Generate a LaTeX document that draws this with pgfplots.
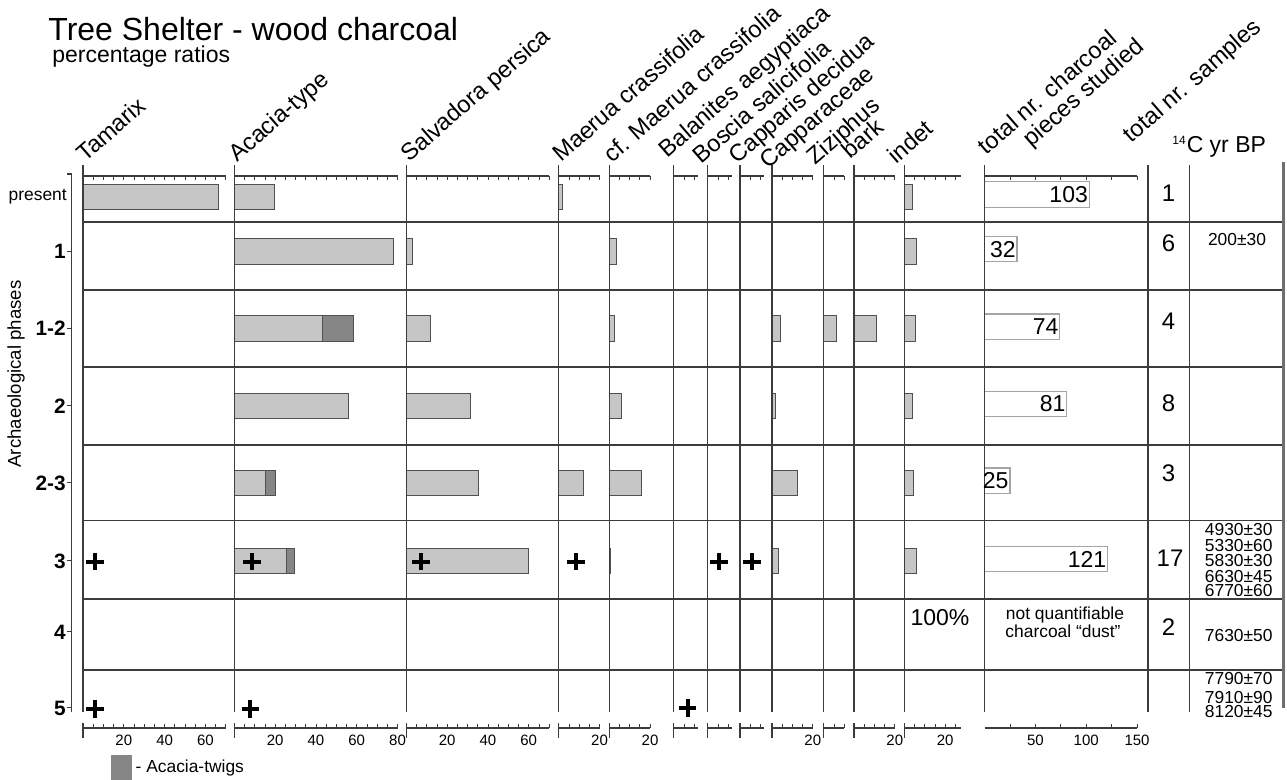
\documentclass[border=0pt]{standalone}
\usepackage{fontspec}
\setmainfont{Liberation Sans}
\usepackage{pgfplots}
\pgfplotsset{compat=1.18}

\definecolor{barfill}{RGB}{198,198,198}
\definecolor{baredge}{RGB}{80,80,80}
\definecolor{twig}{RGB}{134,134,134}
\definecolor{rule}{RGB}{60,60,60}
\definecolor{totedge}{RGB}{165,165,165}
\definecolor{thickgray}{RGB}{110,110,110}

\newcommand{\fs}[1]{\fontsize{#1}{#1}\selectfont}
% vertical divider of a panel + small origin bar on the bottom scale
\newcommand{\colline}{%
  \draw[rule, line width=0.65pt] (axis cs:0,68) -- (axis cs:0,615);
  \draw[rule, line width=0.65pt] (axis cs:0,42) -- (axis cs:0,57);}

\pgfplotsset{
  /pgf/number format/assume math mode=true,
  panel/.style={
    anchor=south west, x=1.02pt, y=0.5pt,
    xmin=0, ymin=52, ymax=604,
    axis x line=box, axis y line=none,
    xtick={20,40,60,80}, minor xtick={5,10,...,80},
    ytick=\empty,
    tick align=inside,
    major tick length=2pt, minor tick length=2pt,
    tick style={rule, line width=0.4pt},
    axis line style={rule, line width=0.6pt},
    ticklabel style={font=\fs{7.5}, text=black},
    clip=false,
  },
  bars/.style={xbar, bar width=25.5, bar shift=0pt, fill=barfill, draw=baredge, line width=0.5pt},
  plus/.style={only marks, mark=+, mark size=4.3pt, mark options={line width=2pt, draw=black}},
}

\begin{document}
\begin{tikzpicture}
\path[use as bounding box] (0pt,0pt) rectangle (643.5pt,390pt);

\begin{scope}[x=0.5pt, y=0.5pt]
  % anchor points of the panels (pixel grid, origin bottom left)
  \coordinate (cRow) at (71.7,68);
  \coordinate (cTam) at (83,52);
  \coordinate (cAca) at (234.3,52);
  \coordinate (cSal) at (406.3,52);
  \coordinate (cMae) at (558.7,52);
  \coordinate (cCfm) at (609.2,52);
  \coordinate (cBal) at (673.7,52);
  \coordinate (cBos) at (707.7,52);
  \coordinate (cCde) at (740,52);
  \coordinate (cCap) at (772,52);
  \coordinate (cZiz) at (823.7,52);
  \coordinate (cBar) at (854,52);
  \coordinate (cInd) at (904.3,52);
  \coordinate (cTot) at (984.5,52);

  % row separators
  \foreach \yy in {558,490,413,335,259.5,181,110}
    \draw[rule, line width=0.6pt] (82,\yy) -- (1283,\yy);
  \draw[rule, line width=0.65pt] (1148,68) -- (1148,615);
  \draw[rule, line width=0.65pt] (1189.3,68) -- (1189.3,615);
  \draw[thickgray, line width=1.8pt] (1283.5,72) -- (1283.5,618);
  \draw[rule, line width=0.6pt] (67,606) -- (71.7,606);

  % titles
  \node[anchor=base west, inner sep=0pt, font=\fs{16}] at (48,739) {Tree Shelter - wood charcoal};
  \node[anchor=base west, inner sep=0pt, font=\fs{11.5}] at (52,717) {percentage ratios};
  \node[rotate=90, font=\fs{9.3}] at (16,406) {Archaeological phases};

  % column headers
  \begin{scope}[every node/.style={rotate=41, anchor=base west, inner sep=0pt, font=\fs{11.8}}]
    \node at (85,617) {Tamarix};
    \node at (237,617) {Acacia-type};
    \node at (409,617) {Salvadora persica};
    \node at (561,617) {Maerua crassifolia};
    \node at (612,616) {cf. Maerua crassifolia};
    \node at (667,621) {Balanites aegyptiaca};
    \node at (701,615) {Boscia salicifolia};
    \node at (737,615) {Capparis decidua};
    \node at (768,610) {Capparaceae};
    \node at (815,614) {Ziziphus};
    \node at (850,620) {bark};
    \node at (896,615) {indet};
    \node at (986,624) {total nr. charcoal};
    \node at (1031,632) {pieces studied};
    \node at (1131,636) {total nr. samples};
  \end{scope}
  \node[anchor=base west, inner sep=0pt, font=\fs{11.5}] at (1172,627) {\textsuperscript{\fs{6}14}C yr BP};

  % samples per phase
  \begin{scope}[every node/.style={font=\fs{12}}]
    \node at (1168.5,587) {1};
    \node at (1168.5,536.7) {6};
    \node at (1168.5,458.3) {4};
    \node at (1168.5,376.7) {8};
    \node at (1168.5,306.7) {3};
    \node at (1170,221.7) {17};
    \node at (1168.5,152.7) {2};
  \end{scope}

  % radiocarbon dates
  \begin{scope}[every node/.style={font=\fs{8.7}, inner sep=0pt}]
    \node at (1237,540) {200±30};
    \node at (1238.7,250) {4930±30};
    \node at (1238.7,234.7) {5330±60};
    \node at (1238.7,219) {5830±30};
    \node at (1238.7,203.3) {6630±45};
    \node at (1238.7,189) {6770±60};
    \node at (1238.7,144) {7630±50};
    \node at (1238.7,101) {7790±70};
    \node at (1238.7,82.7) {7910±90};
    \node at (1238.7,68) {8120±45};
  \end{scope}

  \node[font=\fs{11.5}] at (940,162) {100\%};
  \node[font=\fs{8.7}, inner sep=0pt] at (1065,165) {not quantifiable};
  \node[font=\fs{8.7}, inner sep=0pt] at (1063,149) {charcoal “dust”};
\end{scope}

% phase axis
\begin{axis}[anchor=south west, at={(cRow)}, x=0.5pt, y=0.5pt,
  xmin=0, xmax=1, ymin=68, ymax=606,
  axis x line=none, axis y line*=left,
  axis line style={rule, line width=0.65pt},
  ytick={528.7,451.3,374,297,219,148,72},
  yticklabels={\textbf{1},\textbf{1-2},\textbf{2},\textbf{2-3},\textbf{3},\textbf{4},\textbf{5}},
  yticklabel style={font=\fs{10.4}, inner sep=0.3pt},
  extra y ticks={583}, extra y tick labels={present},
  extra y tick style={major tick length=0pt, yticklabel style={font=\fs{8.7}, xshift=-2pt}},
  tick align=outside, major tick length=2.5pt,
  tick style={rule, line width=0.5pt}]
\end{axis}

% Tamarix
\begin{axis}[panel, at={(cTam)}, xmax=70]
\addplot[bars] coordinates {(66.2,583)};
\addplot[plus] coordinates {(5.9,218.3) (5.9,71)};
\colline
\end{axis}

% Acacia-type (dark = total incl. twigs, light = wood)
\begin{axis}[panel, at={(cAca)}, xmax=80,
  legend style={at={(axis description cs:-0.76,-0.072)}, anchor=west,
    draw=none, fill=none, font=\fs{8.7}, inner sep=0pt},
  legend cell align=left]
\addplot[bars, fill=twig, legend image code/.code={\fill[twig] (0pt,-6.25pt) rectangle (10pt,6.25pt);}]
  coordinates {(58.2,451.3) (20.3,297) (29.3,219)};
\addlegendentry{- Acacia-twigs}
\addplot[bars] coordinates {(19.5,583) (78,528.7) (43,451.3) (56.2,374) (15.5,297) (25.5,219)};
\addplot[plus] coordinates {(8.7,218.3) (7.8,71)};
\colline
\end{axis}

% Salvadora persica
\begin{axis}[panel, at={(cSal)}, xmax=70]
\addplot[bars] coordinates {(2.9,528.7) (12,451.3) (31.7,374) (35.6,297) (60.1,219)};
\addplot[plus] coordinates {(7.2,218.3)};
\colline
\end{axis}

% Maerua crassifolia
\begin{axis}[panel, at={(cMae)}, xmax=20]
\addplot[bars] coordinates {(2,583) (12,297)};
\addplot[plus] coordinates {(8.5,218.3)};
\colline
\end{axis}

% cf. Maerua crassifolia
\begin{axis}[panel, at={(cCfm)}, xmax=20]
\addplot[bars] coordinates {(3.5,528.7) (2.8,451.3) (6,374) (16,297) (0.5,219)};
\colline
\end{axis}

% Balanites aegyptiaca
\begin{axis}[panel, at={(cBal)}, xmax=12]
\addplot[plus] coordinates {(6.9,72)};
\colline
\end{axis}

% Boscia salicifolia
\begin{axis}[panel, at={(cBos)}, xmax=12]
\addplot[plus] coordinates {(5.5,218.3)};
\colline
\end{axis}

% Capparis decidua
\begin{axis}[panel, at={(cCde)}, xmax=12]
\addplot[plus] coordinates {(5.9,218.3)};
\colline
\end{axis}

% Capparaceae
\begin{axis}[panel, at={(cCap)}, xmax=20]
\addplot[bars] coordinates {(4.3,451.3) (1.5,374) (12.3,297) (3.3,219)};
\colline
\end{axis}

% Ziziphus
\begin{axis}[panel, at={(cZiz)}, xmax=10]
\addplot[bars] coordinates {(6.5,451.3)};
\colline
\end{axis}

% bark
\begin{axis}[panel, at={(cBar)}, xmax=20]
\addplot[bars] coordinates {(10.8,451.3)};
\colline
\end{axis}

% indet
\begin{axis}[panel, at={(cInd)}, xmax=28]
\addplot[bars] coordinates {(3.9,583) (6.1,528.7) (5.5,451.3) (3.9,374) (4.3,297) (6,219)};
\colline
\end{axis}

% total nr. charcoal pieces studied
\begin{axis}[panel, at={(cTot)}, x=0.5085pt, xmax=150,
  xtick={50,100,150}, minor xtick={25,75,125}]
\addplot[xbar, bar width=25.3, bar shift=0pt, fill=white, draw=totedge, line width=0.6pt,
  nodes near coords, nodes near coords style={anchor=east, font=\fs{11.5}, inner sep=0.4pt, text=black}]
  coordinates {(103,585.5) (32,530.8) (74,453.3) (81,376) (25,299.3) (121,221)};
\draw[rule, line width=0.65pt] (axis cs:0,68) -- (axis cs:0,615);
\end{axis}
\end{tikzpicture}
\end{document}
